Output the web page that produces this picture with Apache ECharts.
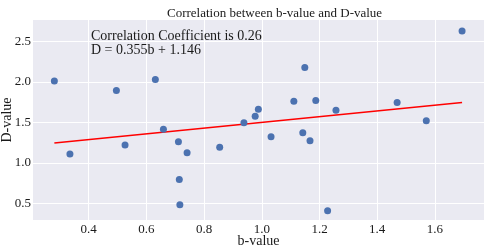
<!DOCTYPE html>
<html>
<head>
<meta charset="utf-8">
<script src="https://cdn.jsdelivr.net/npm/echarts@6/dist/echarts.min.js"></script>
<style>
  html, body { margin: 0; padding: 0; background: #fff; }
  #chart { width: 487px; height: 250px; }
</style>
</head>
<body>
<div id="chart"></div>
<script>
// b-value / D-value pairs
var bValues = [0.281, 0.496, 0.631, 1.694, 1.149, 1.111, 1.187, 1.257, 1.469, 1.570,
               0.988, 0.977, 0.938, 0.659, 0.335, 0.526, 0.711, 0.741, 0.854, 0.714,
               0.716, 1.032, 1.142, 1.167, 1.228];
var dValues = [2.013, 1.897, 2.033, 2.632, 2.180, 1.762, 1.771, 1.651, 1.746, 1.521,
               1.664, 1.578, 1.496, 1.418, 1.110, 1.221, 1.263, 1.127, 1.193, 0.795,
               0.483, 1.324, 1.373, 1.275, 0.409];
// fitted line end points (D = 0.355b + 1.146)
var fitB = [0.281, 1.694];
var fitD = [1.246, 1.747];
var xTicks = [0.4, 0.6, 0.8, 1.0, 1.2, 1.4, 1.6];
var yTicks = [0.5, 1.0, 1.5, 2.0, 2.5];

var chart = echarts.init(document.getElementById('chart'));

var points = bValues.map(function (b, i) { return [b, dValues[i]]; });
var fitLine = fitB.map(function (b, i) { return [b, fitD[i]]; });

var serif = 'Liberation Serif';

var option = {
    animation: false,
    backgroundColor: '#ffffff',
    title: {
        text: 'Correlation between b-value and D-value',
        left: 162,
        top: 2,
        textStyle: { fontFamily: serif, fontWeight: 'normal', fontSize: 13, color: '#1a1a1a' }
    },
    grid: {
        left: 33,
        right: 3,
        top: 20,
        bottom: 30,
        outerBoundsMode: 'none',
        containLabel: false,
        show: true,
        backgroundColor: '#eaeaf2',
        borderWidth: 0
    },
    graphic: [{
        type: 'text',
        left: 91,
        top: 29,
        z: 10,
        style: {
            text: 'Correlation Coefficient is 0.26\nD = 0.355b + 1.146',
            font: '14px "Liberation Serif"',
            fill: '#1a1a1a',
            lineHeight: 14.5
        }
    }],
    xAxis: {
        type: 'value',
        min: 0.207,
        max: 1.770,
        name: 'b-value',
        nameLocation: 'middle',
        nameGap: 14,
        nameMoveOverlap: false,
        nameTextStyle: { fontFamily: serif, fontSize: 14, color: '#1a1a1a' },
        axisLine: { show: false },
        axisTick: { show: false, customValues: xTicks },
        axisLabel: {
            customValues: xTicks,
            fontFamily: serif, fontSize: 13, color: '#1a1a1a', margin: 3,
            formatter: function (v) { return v.toFixed(1); }
        },
        splitLine: { show: true, lineStyle: { color: '#ffffff', width: 1 } }
    },
    yAxis: {
        type: 'value',
        min: 0.295,
        max: 2.767,
        name: 'D-value',
        nameLocation: 'middle',
        nameGap: 19,
        nameRotate: 90,
        nameMoveOverlap: false,
        nameTextStyle: { fontFamily: serif, fontSize: 14, color: '#1a1a1a' },
        axisLine: { show: false },
        axisTick: { show: false, customValues: yTicks },
        axisLabel: {
            customValues: yTicks,
            fontFamily: serif, fontSize: 13, color: '#1a1a1a', margin: 2,
            formatter: function (v) { return v.toFixed(1); }
        },
        splitLine: { show: true, lineStyle: { color: '#ffffff', width: 1 } }
    },
    series: [{
        type: 'scatter',
        data: points,
        symbolSize: 7,
        itemStyle: { color: '#4c72b0', opacity: 1 },
        z: 3
    }, {
        type: 'line',
        data: fitLine,
        showSymbol: false,
        lineStyle: { color: '#ff0000', width: 1.5 },
        z: 2
    }]
};

chart.setOption(option);
</script>
</body>
</html>
